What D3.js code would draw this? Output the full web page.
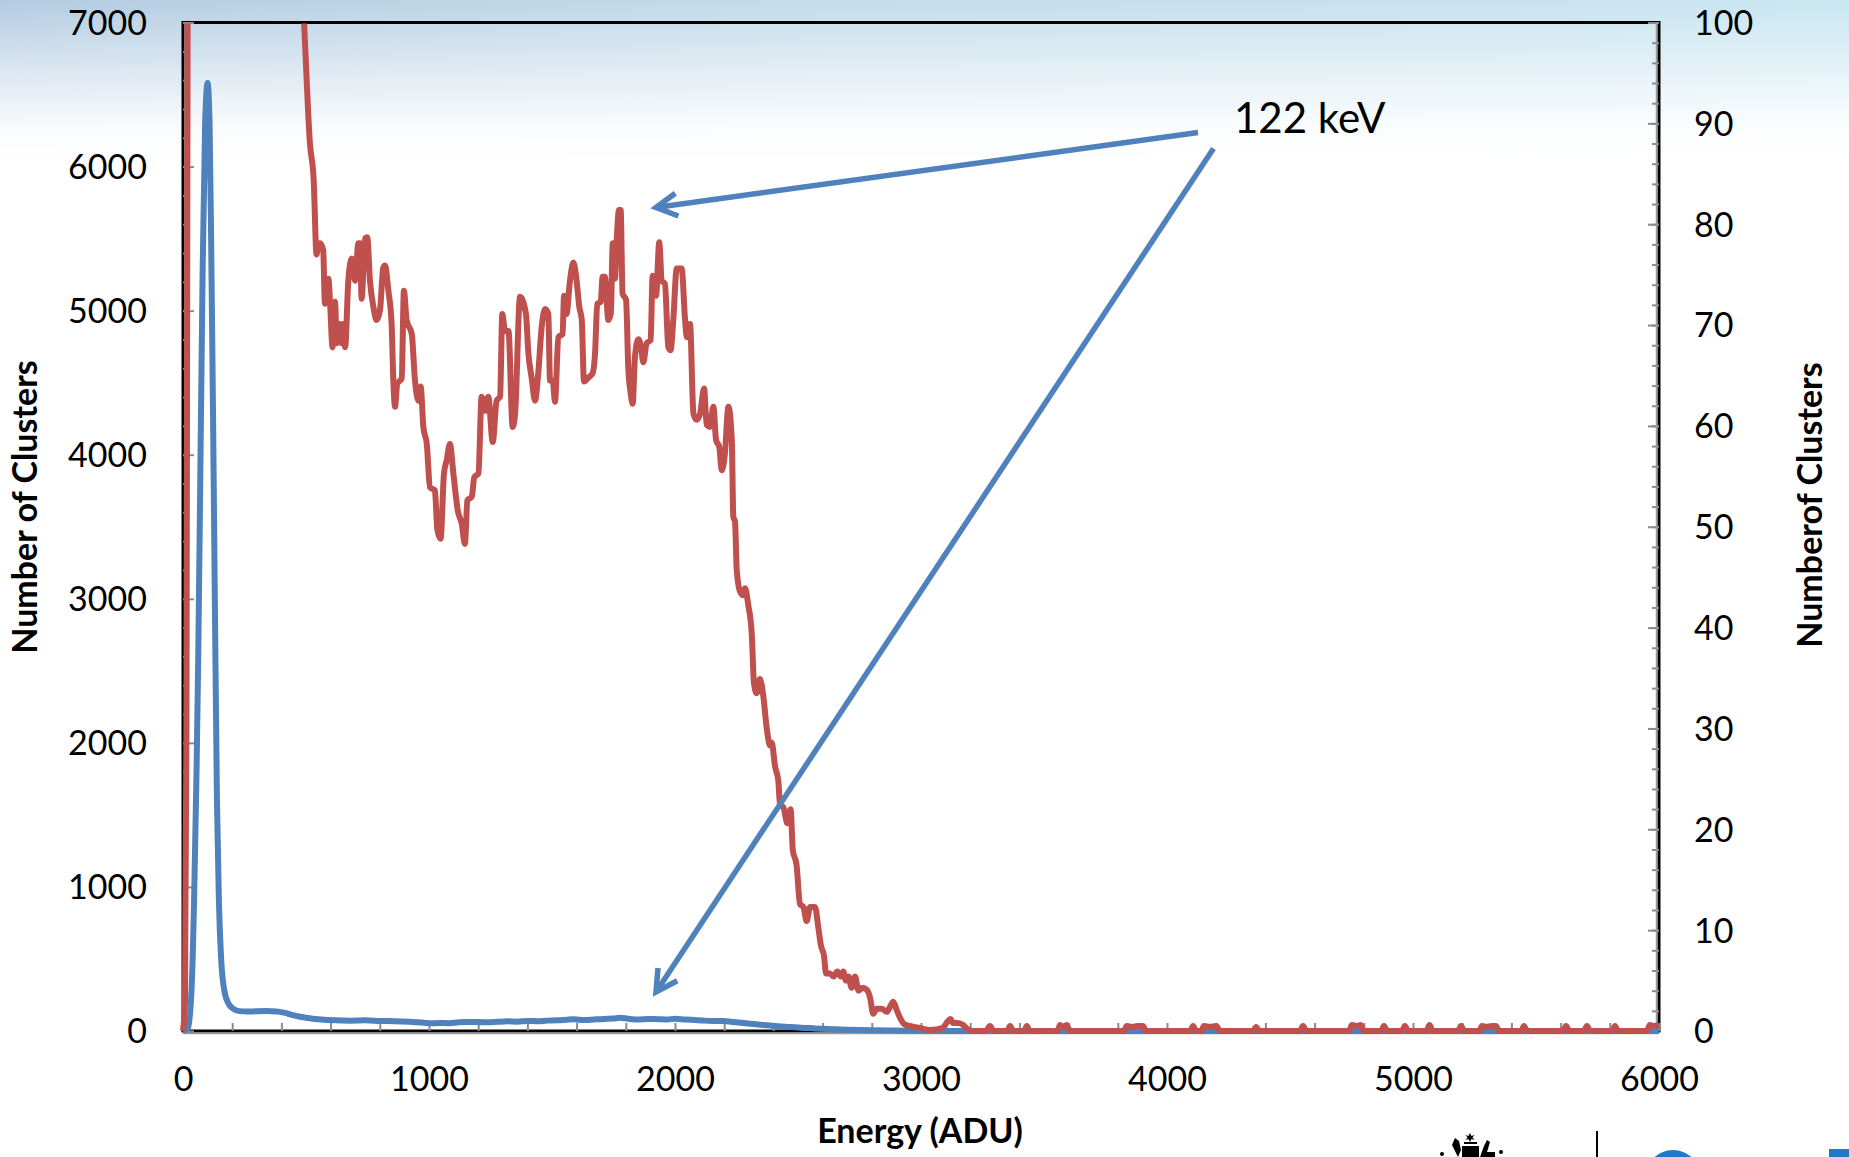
<!DOCTYPE html>
<html><head><meta charset="utf-8">
<script src="https://cdn.jsdelivr.net/npm/d3@7/dist/d3.min.js"></script>
<style>html,body{margin:0;padding:0;background:#fff;}svg{display:block;}</style>
</head><body>
<svg id="c" width="1849" height="1157"></svg>
<script>
// ---- data ----
const xTickLabels = [0,1000,2000,3000,4000,5000,6000];
const leftTickLabels = [0,1000,2000,3000,4000,5000,6000,7000];
const rightTickLabels = [0,10,20,30,40,50,60,70,80,90,100];
const xTitle = "Energy (ADU)";
const leftTitle = "Number of Clusters";
const rightTitle = "Numberof Clusters";
const annotation = "122 keV";

// blue series (left axis)
const blueX = [0,20,35,45,55,62,70,80,90,100,108,115,122,130,138,146,155,167,185,200,230,260,300,340,380,410,450,500,560,620,680,740,800,860,920,980,1005,1040,1080,1120,1160,1200,1240,1280,1320,1360,1400,1440,1480,1520,1560,1590,1630,1670,1710,1750,1776,1810,1850,1890,1930,1970,2000,2040,2080,2120,2160,2196,2240,2280,2320,2360,2406,2450,2500,2550,2593,2650,2700,2800,2900,3000,3100,6000];
const blueY = [0,20,300,900,1800,2600,3800,5300,6300,6580,6300,5400,4300,2900,1600,900,500,290,190,160,138,135,137,138,136,128,108,92,80,74,72,74,70,68,64,58,53,56,54,60,62,62,60,64,67,65,70,68,72,74,78,81,76,80,84,86,92,85,80,84,82,80,85,80,76,72,70,69,62,55,48,42,35,30,24,20,16,12,9,5,3,1,0,0];

// red series (right axis)
const redX = [0,8,14,20,40,150,300,420,470,492,516,531,543,550,557,570,577,591,598,608,618,625,638,645,652,659,672,686,699,713,720,726,740,749,760,774,787,801,814,821,835,848,855,862,871,889,898,909,930,943,957,966,977,991,1004,1024,1034,1047,1061,1072,1085,1099,1117,1133,1146,1156,1174,1184,1201,1214,1228,1241,1259,1275,1289,1298,1309,1323,1340,1350,1370,1394,1404,1417,1431,1444,1458,1472,1485,1492,1503,1512,1526,1543,1549,1559,1573,1587,1600,1611,1621,1630,1648,1665,1675,1684,1698,1706,1715,1729,1739,1747,1756,1763,1772,1779,1787,1801,1810,1820,1828,1837,1851,1862,1871,1885,1901,1909,1923,1936,1946,1959,1973,1982,1993,2007,2027,2041,2048,2061,2075,2088,2102,2118,2129,2142,2156,2167,2180,2190,2203,2217,2231,2237,2244,2251,2264,2278,2285,2298,2312,2321,2332,2345,2359,2373,2386,2393,2407,2420,2427,2440,2457,2470,2479,2494,2508,2522,2535,2549,2569,2583,2593,2606,2614,2630,2644,2660,2674,2684,2695,2705,2718,2732,2746,2763,2779,2793,2806,2820,2840,2861,2874,2887,2901,2915,2931,2955,2996,3037,3089,3104,3120,3130,3150,3171,3184,3205,3265,3280,3295,3350,3362,3375,3420,3430,3442,3555,3565,3580,3592,3605,3825,3836,3860,3880,3902,3915,4095,4106,4118,4140,4150,4175,4200,4215,4350,4362,4375,4540,4553,4566,4740,4752,4770,4787,4800,4870,4882,4895,4955,4967,4980,5055,5067,5080,5183,5195,5208,5270,5280,5300,5320,5337,5350,5440,5451,5463,5610,5622,5635,5695,5707,5720,5810,5821,5833,5950,5963,5980,6000];
const redY = [0,3,30,120,300,400,250,140,110,100,88,84.5,77,78,78.1,77.4,72.1,74.6,72.1,67.8,72.3,68.2,70.1,68.2,70.1,67.8,74.4,76.6,74.4,78.1,78.1,72.6,78.6,78.7,74.4,71.8,70.5,71.5,75.7,75.9,73.4,70.1,64.5,61.9,64.2,64.7,73.4,70.5,69.1,64.5,62.5,63.9,59.9,58.2,53.9,53.6,49.7,48.8,55.3,56.6,58.2,55.3,51.6,50.3,48.3,52.6,53.0,54.9,55.3,62.9,61.5,62.9,58.4,62.5,62.9,71.1,69.4,69.4,59.9,61.2,72.8,71.1,67.2,64.8,62.5,65.2,69.8,71.6,71.1,64.5,64.5,62.4,68.8,69.1,72.9,71.1,74.4,76.2,74.4,71.8,70.5,64.4,64.8,65.2,67.2,72.1,72.3,74.8,74.8,70.5,71.1,78.1,74.6,78.4,81.4,81.4,73.1,72.5,65.8,63.2,62.2,66.8,68.6,67.8,66.3,68.2,68.5,74.9,72.9,78.2,74.4,74.1,67.8,67.5,70.5,75.6,75.6,70.5,68.8,70.1,61.2,60.6,61.2,63.7,60.1,59.9,61.9,58.6,57.9,55.6,57.3,61.9,58.6,51.0,50.5,45.7,43.6,43.2,43.9,42.2,39.4,34.5,33.5,34.9,33.2,30.0,28.3,28.6,26.2,24.8,22.4,22.2,20.6,22.0,17.9,16.5,12.6,12.3,10.9,12.3,12.3,10.2,8.5,7.4,5.7,5.7,5.4,5.9,5.4,5.9,5.0,5.4,4.3,5.4,4.0,4.3,4.1,3.3,1.7,2.2,2.2,1.9,2.4,2.9,2.1,1.3,0.7,0.5,0.3,0.1,0.3,0.8,1.2,0.8,0.8,0.6,0.3,0,0,0.5,0,0,0.5,0,0,0.5,0,0,0.6,0.4,0.6,0,0,0.5,0.4,0.5,0.5,0,0,0.5,0,0,0.5,0.4,0.5,0,0,0.4,0,0,0.5,0,0,0.6,0.5,0.6,0,0,0.5,0,0,0.5,0,0,0.6,0,0,0.5,0,0,0.5,0.4,0.5,0.5,0,0,0.5,0,0,0.5,0,0,0.5,0,0,0.5,0,0,0.6,0.5,0.6];

// ---- layout ----
const X0 = 183, X1 = 1659, Y0 = 22.5, Y1 = 1031;
const BLUE = "#4F81BD", RED = "#C0504D", TICK = "#8a8a8a";
const FONT = "Lato, 'Open Sans', sans-serif";

const svg = d3.select("#c");
const defs = svg.append("defs");

// background sky
const hg = defs.append("linearGradient").attr("id","hg").attr("x1",0).attr("x2",1).attr("y1",0).attr("y2",0);
hg.append("stop").attr("offset","0%").attr("stop-color","#b3cbe1");
hg.append("stop").attr("offset","45%").attr("stop-color","#c4dcea");
hg.append("stop").attr("offset","100%").attr("stop-color","#c9e6f1");
const vg = defs.append("linearGradient").attr("id","vg").attr("x1",0).attr("x2",0).attr("y1",0).attr("y2",1);
vg.append("stop").attr("offset","0%").attr("stop-color","#fff").attr("stop-opacity",0);
vg.append("stop").attr("offset","45%").attr("stop-color","#fff").attr("stop-opacity",0.55);
vg.append("stop").attr("offset","80%").attr("stop-color","#fff").attr("stop-opacity",0.95);
vg.append("stop").attr("offset","100%").attr("stop-color","#fff").attr("stop-opacity",1);
svg.append("rect").attr("width",1849).attr("height",1157).attr("fill","#fff");
svg.append("rect").attr("width",1849).attr("height",165).attr("fill","url(#hg)");
svg.append("rect").attr("width",1849).attr("height",165).attr("fill","url(#vg)");

defs.append("clipPath").attr("id","clip").append("rect")
  .attr("x",X0-4).attr("y",Y0+1).attr("width",X1-X0+8).attr("height",Y1-Y0+5);

const x = d3.scaleLinear().domain([0,6000]).range([X0,X1]);
const yL = d3.scaleLinear().domain([0,7000]).range([Y1,Y0]);
const yR = d3.scaleLinear().domain([0,100]).range([Y1,Y0]);
const fmt = d3.format("d");

// plot border
svg.append("rect").attr("x",X0).attr("y",Y0).attr("width",X1-X0).attr("height",Y1-Y0)
  .attr("fill","none").attr("stroke","#000").attr("stroke-width",3);

function styleAxis(g){
  g.select(".domain").remove();
  g.selectAll(".tick line").attr("stroke",TICK).attr("stroke-width",2);
  g.selectAll("text").attr("font-family",FONT).attr("font-size",34).attr("fill","#000");
}

// bottom axis
const gxMinor = svg.append("g").attr("transform",`translate(0,${Y1})`)
  .call(d3.axisBottom(x).tickValues(d3.range(0,6001,200)).tickSize(-8).tickFormat(""));
styleAxis(gxMinor);
const gx = svg.append("g").attr("transform",`translate(0,${Y1})`)
  .call(d3.axisBottom(x).tickValues(xTickLabels).tickSize(0).tickPadding(0).tickFormat(fmt));
styleAxis(gx);
gx.selectAll("text").attr("y",48).attr("dy","0.35em");
svg.append("line").attr("x1",X0).attr("x2",X1).attr("y1",Y1+2.5).attr("y2",Y1+2.5).attr("stroke","#9a9a9a").attr("stroke-width",1.5);

// left axis
const gyMinor = svg.append("g").attr("transform",`translate(${X0},0)`)
  .call(d3.axisLeft(yL).tickValues(d3.range(0,7001,200)).tickSize(-5).tickFormat(""));
styleAxis(gyMinor);
const gy = svg.append("g").attr("transform",`translate(${X0},0)`)
  .call(d3.axisLeft(yL).tickValues(leftTickLabels).tickSize(-11).tickPadding(36).tickFormat(fmt));
styleAxis(gy);
gy.selectAll("text").attr("dy","0.35em");

// right axis
const grMinor = svg.append("g").attr("transform",`translate(${X1},0)`)
  .call(d3.axisRight(yR).tickValues(d3.range(0,101,2)).tickSize(-7).tickFormat(""));
styleAxis(grMinor);
const gr = svg.append("g").attr("transform",`translate(${X1},0)`)
  .call(d3.axisRight(yR).tickValues(rightTickLabels).tickSize(-11).tickPadding(35).tickFormat(fmt));
styleAxis(gr);
gr.selectAll("text").attr("dy","0.35em");
svg.append("line").attr("x1",X1-2.5).attr("x2",X1-2.5).attr("y1",Y0).attr("y2",Y1).attr("stroke","#9a9a9a").attr("stroke-width",1.5);
svg.append("line").attr("x1",X0+2.5).attr("x2",X0+2.5).attr("y1",Y0).attr("y2",Y1).attr("stroke","#9a9a9a").attr("stroke-width",1.5);

// series
const plot = svg.append("g").attr("clip-path","url(#clip)");
const blueData = blueX.map((v,i)=>[v,blueY[i]]);
const redData = redX.map((v,i)=>[v,redY[i]]);
plot.append("path").datum(blueData)
  .attr("d", d3.line().x(d=>x(d[0])).y(d=>yL(d[1])).curve(d3.curveMonotoneX))
  .attr("fill","none").attr("stroke",BLUE).attr("stroke-width",6).attr("stroke-linejoin","round");
plot.append("path").datum(redData)
  .attr("d", d3.line().x(d=>x(d[0])).y(d=>yR(d[1])).curve(d3.curveMonotoneX))
  .attr("fill","none").attr("stroke",RED).attr("stroke-width",6).attr("stroke-linejoin","round");

// titles
svg.append("text").attr("transform","translate(37,507) rotate(-90)").attr("text-anchor","middle")
  .attr("font-family",FONT).attr("font-weight","bold").attr("font-size",34).text(leftTitle);
svg.append("text").attr("transform","translate(1822,505) rotate(-90)").attr("text-anchor","middle")
  .attr("font-family",FONT).attr("font-weight","bold").attr("font-size",34).text(rightTitle);
svg.append("text").attr("x",920).attr("y",1143).attr("text-anchor","middle")
  .attr("font-family",FONT).attr("font-weight","bold").attr("font-size",34).text(xTitle);

// annotation arrows (from the label towards the 122 keV features)
function arrow(x1,y1,x2,y2){
  const g = svg.append("g").attr("stroke",BLUE).attr("stroke-width",5.5).attr("fill","none").attr("stroke-linecap","butt");
  g.append("line").attr("x1",x1).attr("y1",y1).attr("x2",x2).attr("y2",y2);
  const a = Math.atan2(y1-y2,x1-x2), L = 24, s = 0.5;
  g.append("path").attr("stroke-linejoin","miter")
    .attr("d",`M${x2+L*Math.cos(a+s)},${y2+L*Math.sin(a+s)}L${x2},${y2}L${x2+L*Math.cos(a-s)},${y2+L*Math.sin(a-s)}`);
}
arrow(1198,132.5, 656,207.5);
arrow(1213.5,148.5, 656,992);
svg.append("text").attr("x",1234).attr("y",133).attr("font-family",FONT).attr("font-size",42).text(annotation);

// slide footer logos (partial)
svg.append("line").attr("x1",1597).attr("x2",1597).attr("y1",1131).attr("y2",1157).attr("stroke","#000").attr("stroke-width",2);
svg.append("circle").attr("cx",1673).attr("cy",1178).attr("r",28).attr("fill","#1f78c8");
svg.append("rect").attr("x",1829).attr("y",1149).attr("width",20).attr("height",10).attr("fill","#1f78c8");
const ca = svg.append("g").attr("fill","#000");
ca.append("path").attr("d","M1470,1133 l1.5,3 3,-1 -2,2.5 2,2.5 -3,-1 -1.5,3 -1.5,-3 -3,1 2,-2.5 -2,-2.5 3,1z");
ca.append("rect").attr("x",1462).attr("y",1146).attr("width",17).attr("height",11);
ca.append("path").attr("d","M1458,1157 L1452,1145 L1455,1138 L1459,1141 L1461,1150 Z");
ca.append("path").attr("d","M1480,1157 L1484,1146 L1487,1140 L1490,1142 L1487,1152 L1495,1152 L1495,1157 Z");
ca.append("rect").attr("x",1464).attr("y",1142).attr("width",13).attr("height",2);
ca.append("circle").attr("cx",1442).attr("cy",1154).attr("r",2);
ca.append("circle").attr("cx",1501).attr("cy",1152).attr("r",2);
</script>
</body></html>
